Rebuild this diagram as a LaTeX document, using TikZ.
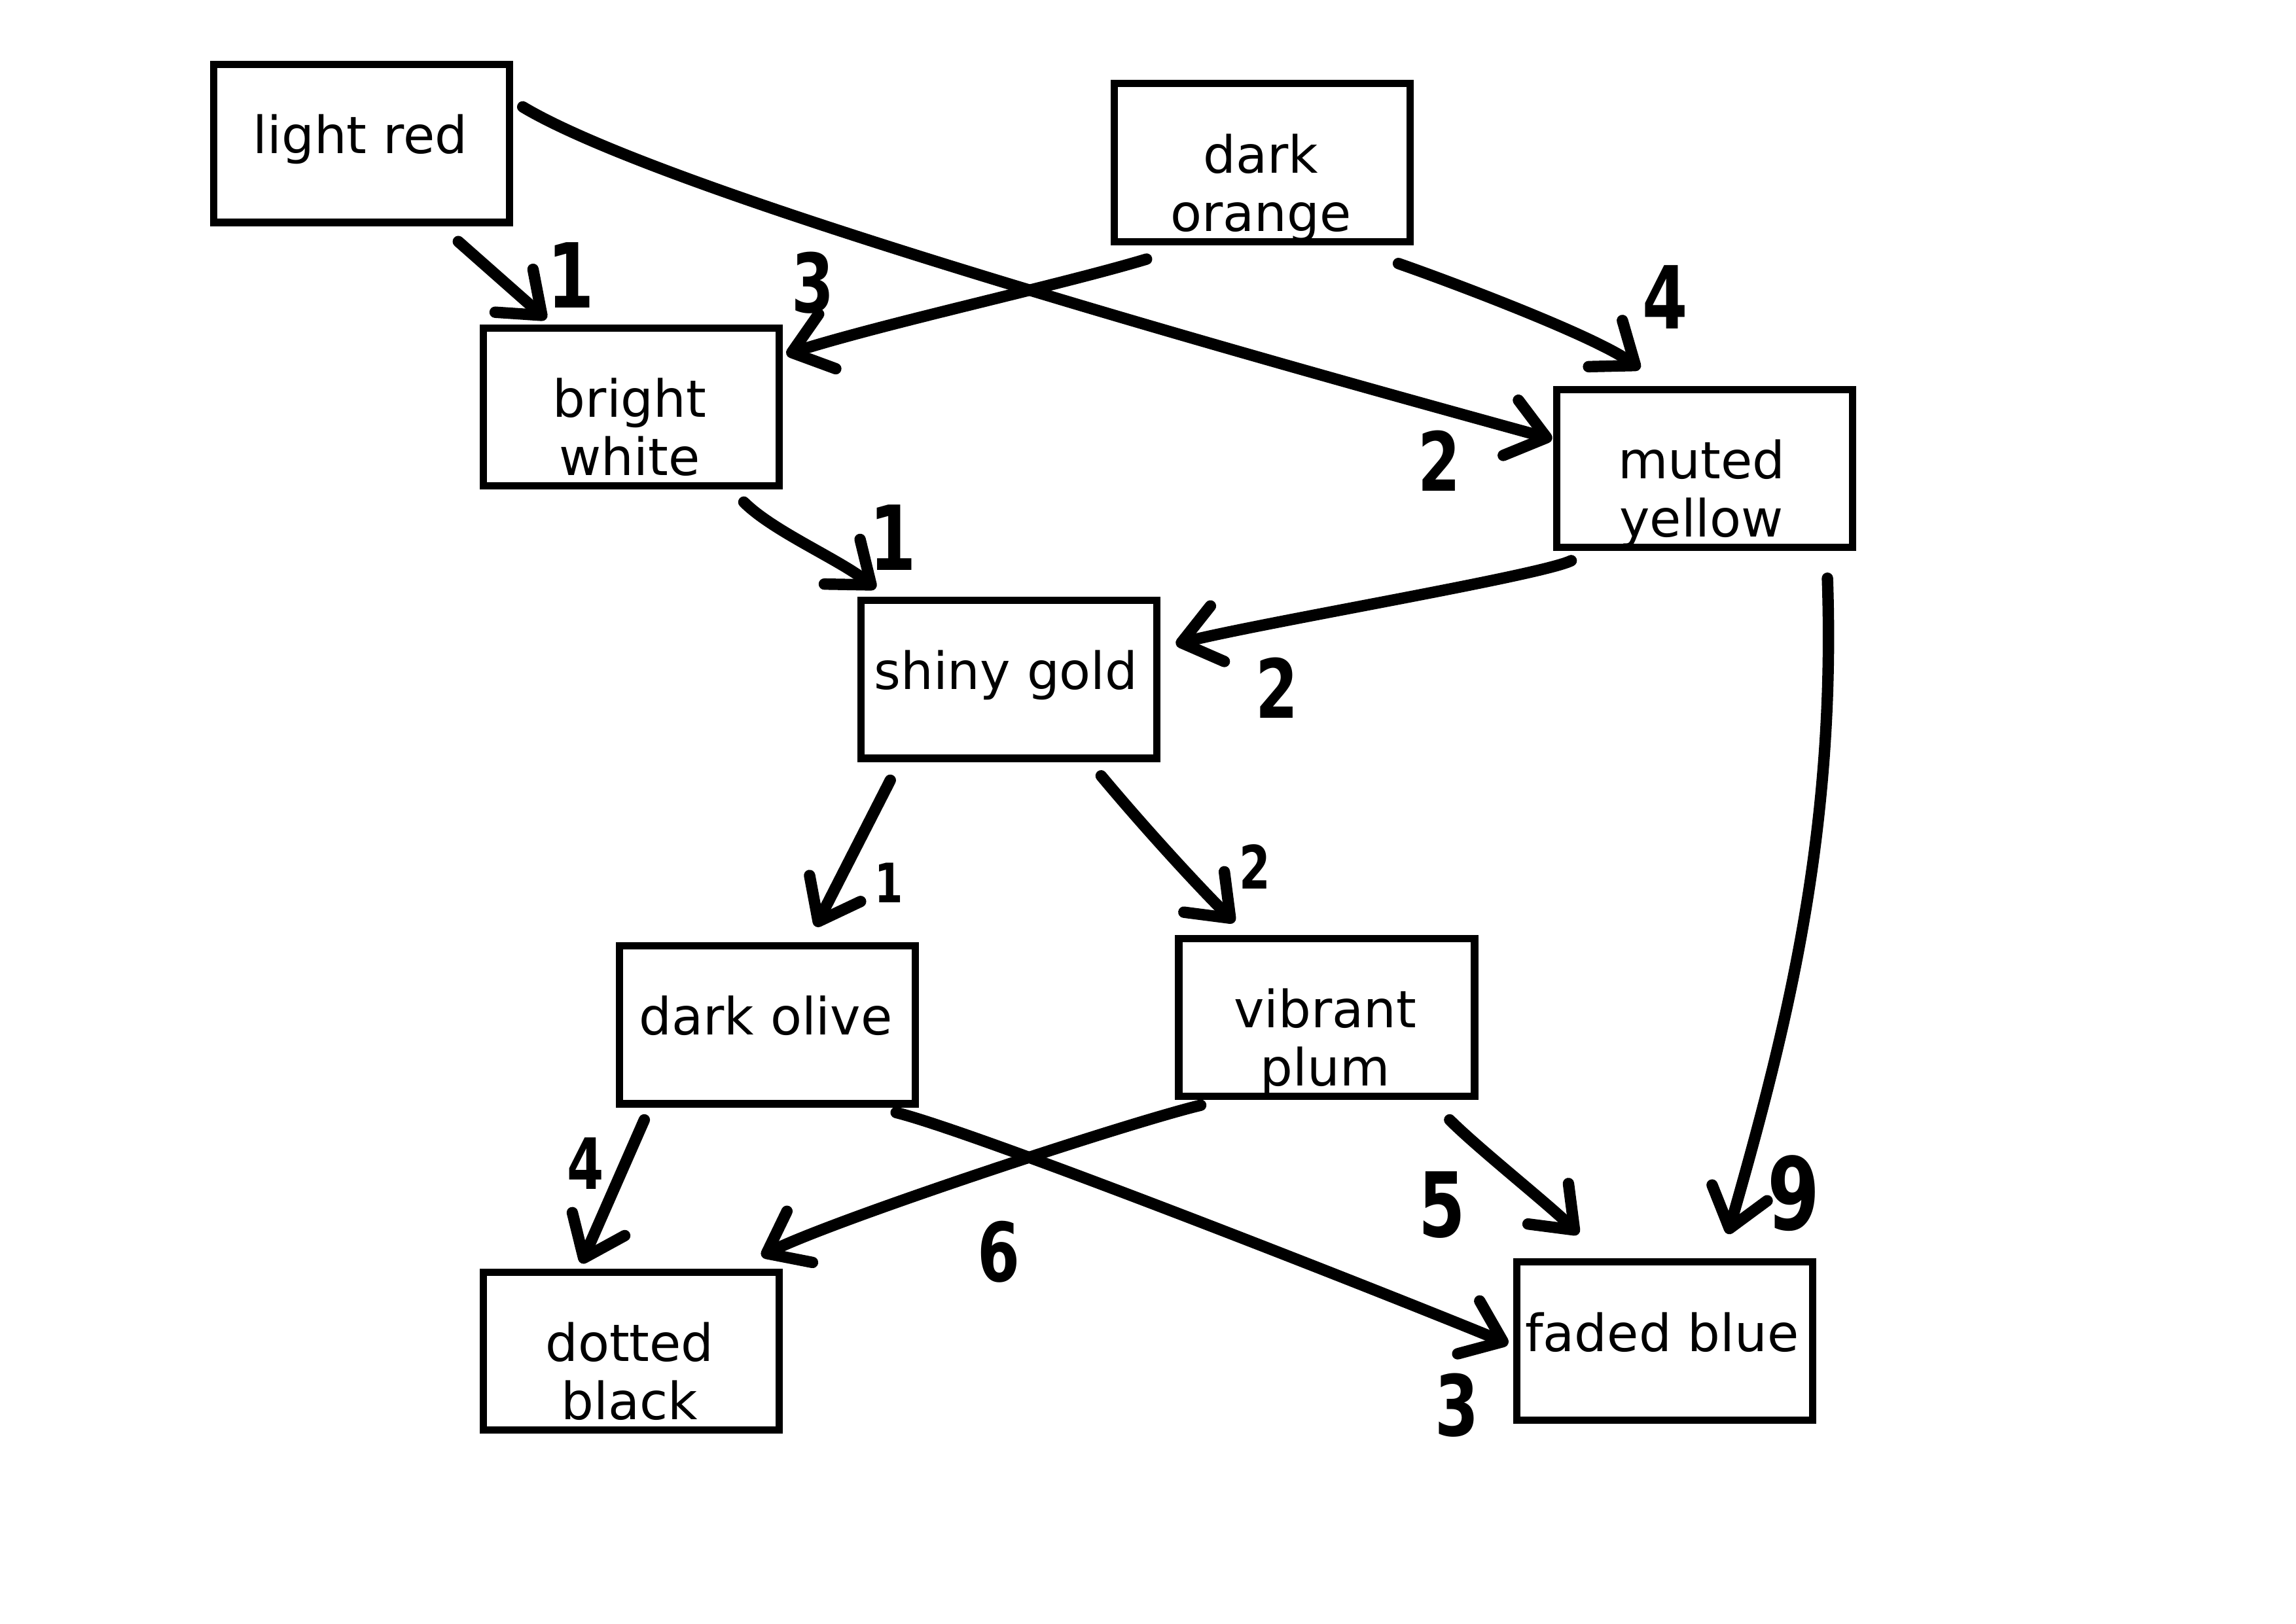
\documentclass[tikz,border=0pt]{standalone}
\usepackage{fontspec}
\setmainfont{DejaVu Sans}
\newfontfamily\numfont{DejaVu Sans}[FakeStretch=0.75]
\usetikzlibrary{arrows.meta,calc}
\newcommand\numsize[1]{\numfont\bfseries\fontsize{#1}{#1}\selectfont}
\begin{document}
\begin{tikzpicture}[x=0.01894cm,y=-0.01894cm,
  box/.style={draw, line width=2.7pt, rectangle, minimum width=3.826cm, minimum height=2.045cm, inner sep=0pt, outer sep=0pt},
  lbl/.style={anchor=base, inner sep=0pt, font=\fontsize{18.9}{21.5}\selectfont},
  arr/.style={line width=4.2pt, line cap=round, line join=round, -{Straight Barb[length=0.48cm, width=0.74cm, round]}},
  num/.style={inner sep=0pt, font=\numsize{#1}}]
\useasboundingbox[fill=white] (0,0) rectangle (1568,1109);

% boxes
\node[box] (lr) at (247,98) {};
\node[box] (do) at (862,111) {};
\node[box] (bw) at (431,278) {};
\node[box] (my) at (1164,320) {};
\node[box] (sg) at (689,464) {};
\node[box] (dol) at (524,700) {};
\node[box] (vp) at (906,695) {};
\node[box] (db) at (431,923) {};
\node[box] (fb) at (1137,916) {};

% texts
\node[lbl] (lrt) at (246,105) {light red};
\node[lbl] (dot) at (861,118) {\begin{tabular}[t]{@{}c@{}}dark\\orange\end{tabular}};
\node[lbl] (bwt) at (430,285) {\begin{tabular}[t]{@{}c@{}}bright\\white\end{tabular}};
\node[lbl] (myt) at (1162,327) {\begin{tabular}[t]{@{}c@{}}muted\\yellow\end{tabular}};
\node[lbl] (sgt) at (687,471) {shiny gold};
\node[lbl] (dolt) at (523,707) {dark olive};
\node[lbl] (vpt) at (905,702) {\begin{tabular}[t]{@{}c@{}}vibrant\\plum\end{tabular}};
\node[lbl] (dbt) at (430,930) {\begin{tabular}[t]{@{}c@{}}dotted\\black\end{tabular}};
\node[lbl] (fbt) at (1135,923) {faded blue};

% connectors
\draw[arr] ($(lr.center)+(66,67)$) -- ($(bw.center)+(-58,-60)$);
\draw[arr] ($(lr.center)+(110,-25)$) .. controls +(100,60) and +(-200,-55) .. ($(my.center)+(-104,-20)$);
\draw[arr] ($(do.center)+(-79,66)$) .. controls +(-60,18) and +(70,-22) .. ($(bw.center)+(106,-36)$);
\draw[arr] ($(do.center)+(93,69)$) .. controls +(40,14) and +(-30,-22) .. ($(my.center)+(-44,-68)$);
\draw[arr] ($(bw.center)+(77,65)$) .. controls +(20,20) and +(-25,-20) .. ($(sg.center)+(-91,-62)$);
\draw[arr] ($(my.center)+(-91,63)$) .. controls +(-20,10) and +(60,-15) .. ($(sg.center)+(114,-24)$);
\draw[arr] ($(my.center)+(84,75)$) .. controls +(6,175) and +(40,-140) .. ($(fb.center)+(43,-73)$);
\draw[arr] ($(sg.center)+(-81,69)$) -- ($(dol.center)+(33,-67)$);
\draw[arr] ($(sg.center)+(63,66)$) .. controls +(25,30) and +(-30,-30) .. ($(vp.center)+(-63,-65)$);
\draw[arr] ($(dol.center)+(-84,65)$) -- ($(db.center)+(-34,-60)$);
\draw[arr] ($(dol.center)+(88,60)$) .. controls +(60,15) and +(-60,-25) .. ($(fb.center)+(-107,2)$);
\draw[arr] ($(vp.center)+(-86,60)$) .. controls +(-50,12) and +(50,-25) .. ($(db.center)+(89,-65)$);
\draw[arr] ($(vp.center)+(84,70)$) .. controls +(20,20) and +(-20,-20) .. ($(fb.center)+(-59,-73)$);

% labels
\node[num=33] (n1) at (390,188) {1};
\node[num=30] (n2) at (983,315) {2};
\node[num=30] (n3) at (555,193) {3};
\node[num=32] (n4) at (1137,203) {4};
\node[num=33] (n5) at (610,367) {1};
\node[num=30] (n6) at (872,470) {2};
\node[num=37] (n7) at (1225,815) {9};
\node[num=20] (n8) at (607,603) {1};
\node[num=22] (n9) at (857,592) {2};
\node[num=26] (n10) at (400,795) {4};
\node[num=31] (n11) at (995,960) {3};
\node[num=30] (n12) at (682,855) {6};
\node[num=33] (n13) at (985,823) {5};
\end{tikzpicture}
\end{document}
